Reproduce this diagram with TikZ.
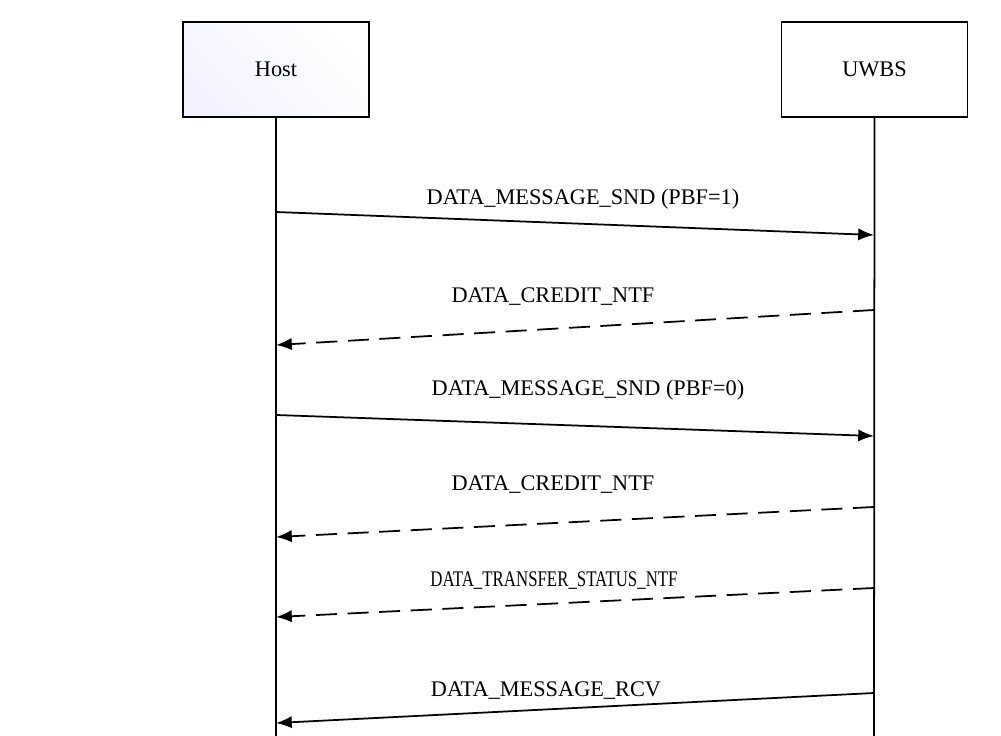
\documentclass[tikz,border=0pt]{standalone}
\usepackage{fontspec}
\setmainfont{Liberation Serif}
\usetikzlibrary{arrows.meta,positioning}
\tikzset{
	party/.style={draw,line width=0.6pt,minimum width=3.72cm,minimum height=1.9cm,font=\fontsize{12.7}{15}\selectfont},
	msg/.style={line width=1pt,-{Latex[length=9pt,width=7pt]}},
	reply/.style={msg,dashed,dash pattern=on 12pt off 6pt},
	lbl/.style={font=\fontsize{12.7}{15}\selectfont}
}
\begin{document}
\begin{tikzpicture}[x=0.02cm,y=-0.02cm]
	\useasboundingbox (0,0) rectangle (1001,736);

	\fill[left color=blue!5,right color=white,shading angle=135] (183,22) rectangle (369,117);
	\node[party] (host) at (276,69.5) {Host};
	\node[party] (uwbs) at (874.5,69.5) {UWBS};

	\coordinate (hostend) at (276,736);
	\coordinate (uwbsend) at (874,736);
	\draw[line width=1pt] (host.south) -- (hostend);
	\draw[line width=1pt] (uwbs.south) -- (uwbsend);

	\coordinate (h1) at (276,212); \coordinate (u1) at (874,235);
	\coordinate (u2) at (874,310); \coordinate (h2) at (276,345);
	\coordinate (h3) at (276,415); \coordinate (u3) at (874,436);
	\coordinate (u4) at (874,507); \coordinate (h4) at (276,537);
	\coordinate (u5) at (874,588); \coordinate (h5) at (276,617);
	\coordinate (u6) at (874,693); \coordinate (h6) at (276,723);

	\draw[msg] (h1) -- (u1);
	\draw[reply] (u2) -- (h2);
	\draw[msg] (h3) -- (u3);
	\draw[reply] (u4) -- (h4);
	\draw[reply] (u5) -- (h5);
	\draw[msg] (u6) -- (h6);

	\node[lbl] (l1) at (583,199) {DATA\_MESSAGE\_SND (PBF=1)};
	\node[lbl] (l2) at (553,297) {DATA\_CREDIT\_NTF};
	\node[lbl] (l3) at (588,390) {DATA\_MESSAGE\_SND (PBF=0)};
	\node[lbl] (l4) at (553,485) {DATA\_CREDIT\_NTF};
	\node[lbl,xscale=0.755] (l5) at (554,581) {DATA\_TRANSFER\_STATUS\_NTF};
	\node[lbl] (l6) at (546,691) {DATA\_MESSAGE\_RCV};
\end{tikzpicture}
\end{document}
